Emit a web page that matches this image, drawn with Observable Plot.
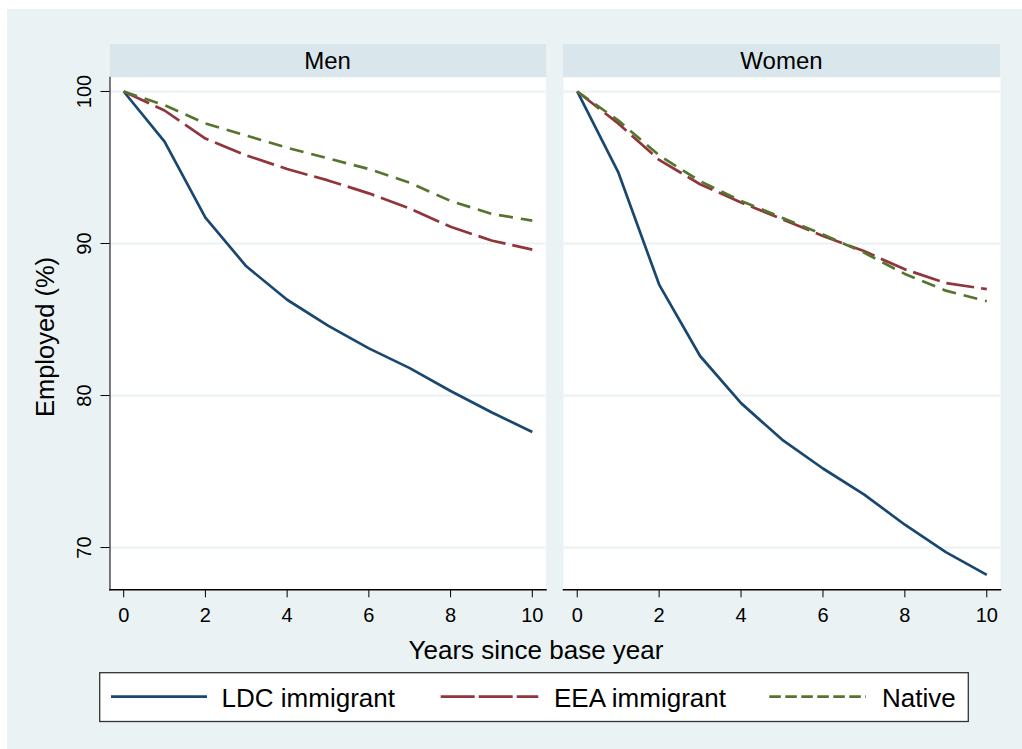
<!DOCTYPE html>
<html><head><meta charset="utf-8">
<script src="https://cdn.jsdelivr.net/npm/d3@7"></script>
<script src="https://cdn.jsdelivr.net/npm/@observablehq/plot@0.6"></script>
<style>
body{margin:0;width:1022px;height:749px;position:relative;background:#fff;font-family:"Liberation Sans",Arial,sans-serif;overflow:hidden}
.abs{position:absolute}
#bg{left:7px;top:9px;width:1015px;height:740px;background:#EAF2F3}
.strip{top:44px;height:33px;background:#D9E6EB;font-size:24px;display:flex;align-items:center;justify-content:center;color:#000}
</style></head><body>
<div id="bg" class="abs"></div>
<div id="stripMen" class="abs strip" style="left:109.5px;width:436px"></div>
<div id="stripWomen" class="abs strip" style="left:563px;width:437px"></div>
<div id="men" class="abs" style="left:0px;top:77px"></div>
<div id="women" class="abs" style="left:548px;top:77px"></div>
<svg id="overlay" class="abs" style="left:0;top:0;overflow:visible" width="1022" height="749"></svg>
<script>
// ---- data ----
const panels = ["Men", "Women"];
const years = [0, 1, 2, 3, 4, 5, 6, 7, 8, 9, 10];
const seriesNames = ["LDC immigrant", "EEA immigrant", "Native"];
const menLDC    = [100, 96.7, 91.7, 88.5, 86.3, 84.6, 83.1, 81.8, 80.3, 78.9, 77.6];
const menEEA    = [100, 98.75, 96.9, 95.8, 94.9, 94.15, 93.3, 92.3, 91.1, 90.2, 89.6];
const menNative = [100, 99.1, 97.9, 97.1, 96.3, 95.6, 94.9, 94.0, 92.8, 91.95, 91.5];
const womenLDC    = [100, 94.7, 87.3, 82.6, 79.5, 77.1, 75.2, 73.5, 71.5, 69.7, 68.2];
const womenEEA    = [100, 97.9, 95.5, 93.9, 92.7, 91.6, 90.5, 89.5, 88.3, 87.4, 87.0];
const womenNative = [100, 98.1, 95.8, 94.1, 92.8, 91.7, 90.6, 89.4, 88.0, 86.9, 86.2];
const xTicks = [0, 2, 4, 6, 8, 10];
const yTicks = [70, 80, 90, 100];
const xTitle = "Years since base year";
const yTitle = "Employed (%)";

// ---- styles ----
const colors = ["#1A476F", "#90353B", "#55752F"];
const dashes = [null, "28 7", "14 8"];
const legendDashes = [null, "34 4", "11.5 4.5"];
const font = '"Liberation Sans", Arial, sans-serif';

function rows(values) { return years.map((x, i) => ({x, y: values[i]})); }
const panelData = {
  Men: [menLDC, menEEA, menNative],
  Women: [womenLDC, womenEEA, womenNative]
};

document.getElementById("stripMen").textContent = panels[0];
document.getElementById("stripWomen").textContent = panels[1];

function panel(name, opts) {
  const marks = [
    Plot.frame({fill: "white", stroke: "none"}),
    Plot.gridY(yTicks, {stroke: "#EAF2F3", strokeOpacity: 1, strokeWidth: 2})
  ];
  panelData[name].forEach((vals, i) => {
    marks.push(Plot.line(rows(vals), {
      x: "x", y: "y", stroke: colors[i], strokeWidth: 2.7,
      strokeDasharray: dashes[i] || undefined, strokeLinecap: "butt", strokeLinejoin: "round"
    }));
  });
  if (opts.yAxis) {
    marks.push(Plot.frame({anchor: "left", stroke: "#333", strokeWidth: 1.3}));
    marks.push(Plot.axisY(yTicks, {anchor: "left", tickSize: 9, tickPadding: 10, tickRotate: -90,
      fontSize: 20, tickFormat: d => String(d), label: null, color: "#000"}));
  }
  marks.push(Plot.frame({anchor: "bottom", stroke: "#000", strokeWidth: 1.5}));
  marks.push(Plot.axisX(xTicks, {anchor: "bottom", tickSize: 8, tickPadding: 10,
    fontSize: 20, tickFormat: d => String(d), label: null, color: "#000"}));
  return Plot.plot({
    width: opts.width, height: 552,
    marginLeft: opts.ml, marginRight: opts.mr, marginTop: 0, marginBottom: 39.7,
    x: {domain: [-0.335, 10.335], axis: null},
    y: {domain: [67.22, 100.92], axis: null},
    style: {background: "transparent", fontFamily: font, fontSize: "20px", color: "#000", overflow: "visible"},
    marks
  });
}

document.getElementById("men").appendChild(panel("Men", {width: 560, ml: 109.5, mr: 14.5, yAxis: true}));
document.getElementById("women").appendChild(panel("Women", {width: 470, ml: 15, mr: 18, yAxis: false}));

// ---- titles and legend ----
const ov = d3.select("#overlay");
ov.append("text").attr("x", 536).attr("y", 659).attr("text-anchor", "middle")
  .attr("font-family", font).attr("font-size", 26).attr("fill", "#000").text(xTitle);
ov.append("text").attr("transform", "translate(53.5,337) rotate(-90)").attr("text-anchor", "middle")
  .attr("font-family", font).attr("font-size", 25.5).attr("fill", "#000").text(yTitle);

ov.append("rect").attr("x", 99.7).attr("y", 672.7).attr("width", 868.6).attr("height", 48.8)
  .attr("fill", "white").attr("stroke", "#333").attr("stroke-width", 1.3);
const legendLineX = [[111, 207], [440.7, 538.3], [769.3, 866]];
const legendTextX = [221.6, 554, 882];
seriesNames.forEach((s, i) => {
  ov.append("line").attr("x1", legendLineX[i][0]).attr("x2", legendLineX[i][1])
    .attr("y1", 696.7).attr("y2", 696.7).attr("stroke", colors[i]).attr("stroke-width", 2.7)
    .attr("stroke-dasharray", legendDashes[i]);
  ov.append("text").attr("x", legendTextX[i]).attr("y", 706.5).attr("font-family", font)
    .attr("font-size", 26).attr("fill", "#000").text(s);
});
</script>
</body></html>
